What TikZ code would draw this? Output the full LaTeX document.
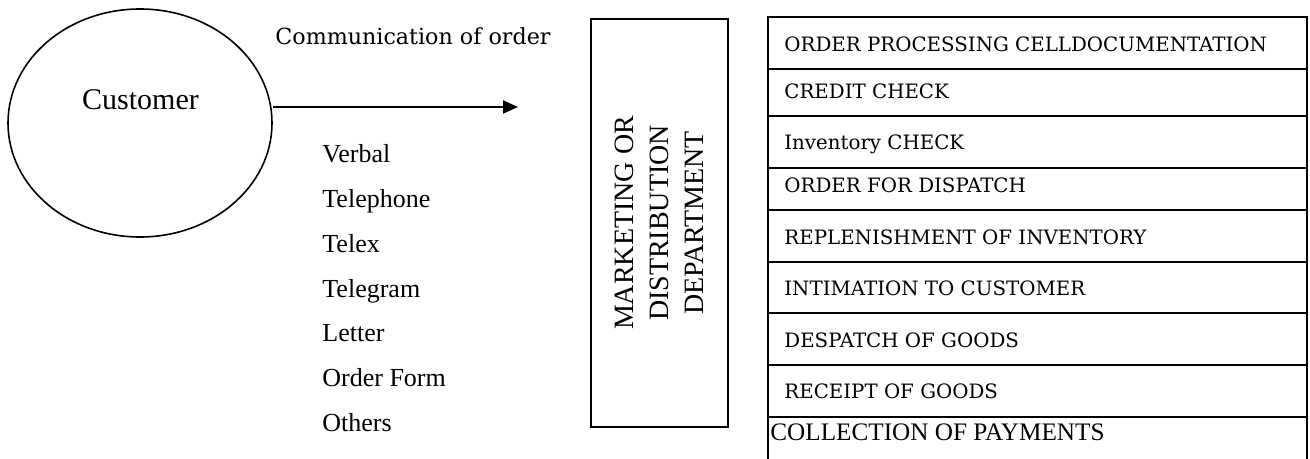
\documentclass[tikz,border=0pt]{standalone}
\usepackage{fontspec}
\setmainfont{Liberation Serif}
\newfontfamily\schoolfont{DejaVu Serif}
\usetikzlibrary{arrows.meta,positioning,calc,shapes.geometric}

\begin{document}
\begin{tikzpicture}[x=0.5pt,y=-0.5pt,
  rowtext/.style={anchor=base west, inner sep=0pt, font=\schoolfont\fontsize{9.9}{12}\selectfont},
  modetext/.style={anchor=base west, inner sep=0pt, font=\fontsize{13}{15}\selectfont},
  thickline/.style={line width=1pt},
  thinline/.style={line width=0.7pt}]
  \useasboundingbox (0,0) rectangle (1310,459);

  % Customer (left ellipse)
  \node[draw, ellipse, line width=0.8pt, minimum width=132pt, minimum height=114pt, inner sep=0pt] (cust) at (140,123) {};
  \node[anchor=base, inner sep=0pt, font=\fontsize{15}{18}\selectfont] (custlabel) at (140.5,110) {Customer};

  % Communication of order
  \coordinate (arrowtip) at (518,107);
  \draw[line width=0.9pt, -{Triangle[length=7.5pt,width=6.5pt]}] (cust.east |- arrowtip) -- (arrowtip);
  \node[rowtext, font=\schoolfont\fontsize{11.1}{13}\selectfont] (commlabel) at (275,45) {Communication of order};

  % Modes of communication
  \foreach \mode [count=\i] in {Verbal,Telephone,Telex,Telegram,Letter,Order Form,Others}
    \node[modetext] (mode\i) at (322,{163+44.7*(\i-1)}) {\mode};

  % Marketing or distribution department
  \node[draw, line width=0.8pt, rotate=90, minimum width=204pt, minimum height=68.5pt,
        align=center, font=\fontsize{14}{17.5}\selectfont] (dept) at (659.5,223)
        {MARKETING OR\\DISTRIBUTION\\DEPARTMENT};

  % Order processing cell
  \draw[thickline] (768,459) -- (768,17) -- (1307,17) -- (1307,459);
  \foreach \y in {116,168,210,262,365,417}
    \draw[thickline] (768,\y) -- (1307,\y);
  \foreach \y in {69,313}
    \draw[thinline] (768,\y) -- (1307,\y);
  \foreach \y/\txt [count=\i] in {52/ORDER PROCESSING CELLDOCUMENTATION, 99/CREDIT CHECK,
      150/Inventory CHECK, 193/ORDER FOR DISPATCH, 245/REPLENISHMENT OF INVENTORY,
      296/INTIMATION TO CUSTOMER, 348/DESPATCH OF GOODS, 398/RECEIPT OF GOODS}
    \node[rowtext] (row\i) at (784,\y) {\txt};
  \node[anchor=base west, inner sep=0pt, font=\fontsize{12.6}{15}\selectfont] (row9) at (770,440) {COLLECTION OF PAYMENTS};
\end{tikzpicture}
\end{document}
